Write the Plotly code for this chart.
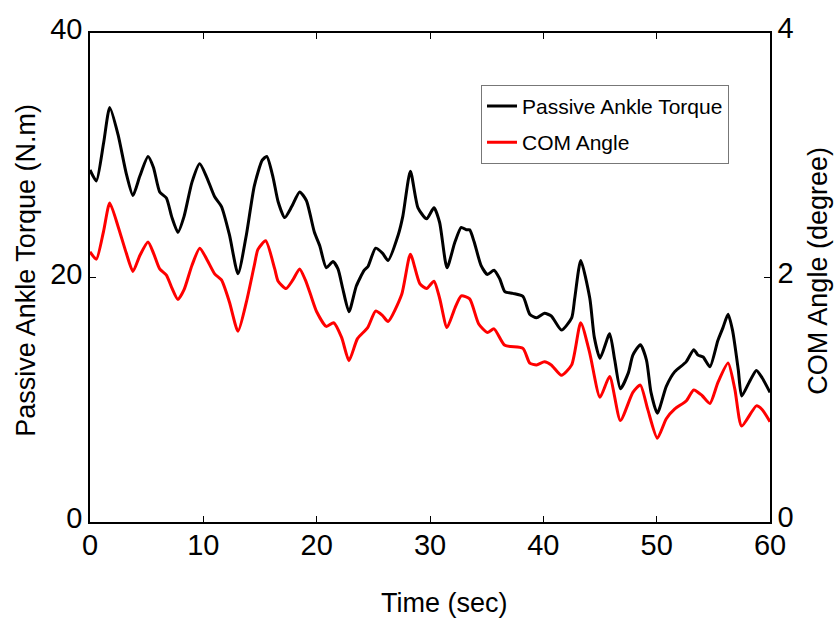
import plotly.graph_objects as go

# Passive ankle torque (N.m) vs time (sec)
torque_t = [0.0, 0.56, 1.2, 1.74, 2.47, 3.2, 3.79, 4.4, 5.12, 5.6, 6.15, 6.74, 7.2, 7.76, 8.3, 9.0,
            9.68, 10.3, 11.0, 11.6, 12.3, 13.06, 13.8, 14.5, 15.2, 15.6, 16.15, 16.6, 17.18, 17.8,
            18.5, 19.09, 19.8, 20.27, 20.85, 21.44, 21.88, 22.3, 22.85, 23.5, 24.2, 24.53, 25.2,
            25.8, 26.3, 27.2, 27.6, 28.27, 28.94, 29.7, 30.35, 30.85, 31.5, 32.2, 32.76, 33.2,
            33.5, 33.9, 34.5, 35.06, 35.65, 36.15, 36.6, 37.3, 38.2, 38.8, 39.4, 40.1, 40.7, 41.6,
            42.5, 42.77, 43.3, 44.1, 44.5, 45.0, 45.85, 46.3, 46.8, 47.5, 47.9, 48.56, 49.1, 49.5,
            50.06, 50.85, 51.6, 52.6, 53.27, 53.65, 54.1, 54.7, 55.4, 55.85, 56.3, 56.7, 57.2,
            57.5, 58.2, 58.8, 59.3, 60.0]
torque_v = [28.8, 27.9, 31.0, 33.9, 31.7, 28.5, 26.7, 28.3, 29.9, 29.0, 27.0, 26.5, 25.0, 23.7, 25.0, 27.8,
            29.3, 28.2, 26.6, 25.8, 23.5, 20.3, 23.5, 27.5, 29.6, 29.9, 28.2, 26.2, 24.9, 25.8,
            27.0, 26.3, 23.7, 22.6, 20.8, 21.3, 20.7, 19.1, 17.2, 19.3, 20.6, 20.9, 22.4,
            22.0, 21.4, 23.5, 25.0, 28.7, 25.7, 24.8, 25.7, 24.5, 20.8, 22.9, 24.1, 23.9,
            23.9, 22.9, 21.0, 20.25, 20.6, 19.9, 18.85, 18.7, 18.45, 17.0, 16.7, 17.07, 16.85, 15.7,
            16.7, 18.3, 21.4, 18.3, 15.1, 13.4, 15.4, 13.25, 10.9, 12.2, 13.65, 14.5, 13.25, 10.6,
            8.9, 11.1, 12.3, 13.1, 14.1, 13.65, 13.5, 12.7, 14.85, 15.9, 17.0, 15.65, 12.45,
            10.3, 11.5, 12.4, 11.8, 10.6]

# COM angle (degree) vs time (sec)
com_t = [0.0, 0.56, 1.2, 1.74, 2.47, 3.2, 3.79, 4.4, 5.12, 5.6, 6.15, 6.74, 7.2, 7.76, 8.3, 9.0,
         9.68, 10.3, 11.0, 11.6, 12.3, 13.06, 13.8, 14.5, 14.82, 15.5, 16.3, 16.6, 17.3, 17.9,
         18.5, 19.0, 19.5, 20.0, 20.85, 21.5, 22.2, 22.85, 23.6, 24.5, 25.2, 25.8, 26.3, 27.5,
         28.27, 29.1, 29.7, 30.35, 30.85, 31.5, 32.2, 32.76, 33.5, 34.3, 35.06, 35.65, 36.6,
         38.2, 38.8, 39.4, 40.1, 40.7, 41.6, 42.5, 43.3, 44.1, 45.0, 45.85, 46.8, 47.9, 48.56,
         49.2, 50.06, 50.85, 51.6, 52.6, 53.27, 54.0, 54.7, 55.4, 56.3, 56.9, 57.5, 58.8, 59.3,
         60.0]
com_v = [2.21, 2.15, 2.38, 2.61, 2.42, 2.2, 2.05, 2.18, 2.29, 2.2, 2.07, 2.02, 1.92, 1.82, 1.9, 2.1,
         2.24, 2.15, 2.03, 1.98, 1.8, 1.56, 1.8, 2.1, 2.23, 2.30, 2.07, 1.97, 1.91, 1.98,
         2.07, 1.98, 1.85, 1.72, 1.60, 1.63, 1.51, 1.32, 1.50, 1.59, 1.725, 1.69, 1.64, 1.86,
         2.19, 1.95, 1.91, 1.97, 1.83, 1.59, 1.75, 1.85, 1.825, 1.62, 1.55, 1.58, 1.445,
         1.42, 1.30, 1.285, 1.31, 1.285, 1.20, 1.285, 1.63, 1.38, 1.02, 1.19, 0.83, 1.06, 1.12,
         0.925, 0.685, 0.845, 0.925, 0.99, 1.08, 1.035, 0.97, 1.14, 1.30, 1.085, 0.785, 0.95, 0.92,
         0.82]

x_ticks = [0, 10, 20, 30, 40, 50, 60]
y1_ticks = [0, 20, 40]
y2_ticks = [0, 2, 4]

FONT = "Liberation Sans, Arial, Helvetica, sans-serif"

fig = go.Figure()
fig.add_trace(go.Scatter(x=torque_t, y=torque_v, mode="lines", name="Passive Ankle Torque",
                         line=dict(color="#000000", width=3, shape="spline", smoothing=0.6),
                         legendgroup="a"))
fig.add_trace(go.Scatter(x=com_t, y=com_v, mode="lines", name="COM Angle", yaxis="y2",
                         line=dict(color="#ff0000", width=3, shape="spline", smoothing=0.6),
                         legendgroup="b"))

axis_common = dict(showgrid=False, zeroline=False, showline=True, linecolor="black", linewidth=1.5,
                   ticks="inside", ticklen=6, tickcolor="black", tickwidth=1,
                   tickfont=dict(family=FONT, size=29, color="black"))

fig.update_layout(
    width=834, height=623,
    margin=dict(l=90, r=64, t=22, b=101),
    paper_bgcolor="white", plot_bgcolor="white",
    font=dict(family=FONT, color="black"),
    xaxis=dict(range=[0, 60], tickvals=x_ticks, mirror="ticks", ticklabelstandoff=-4, **axis_common),
    yaxis=dict(range=[0, 40], tickvals=y1_ticks, ticklabelshift=-4, **axis_common),
    yaxis2=dict(range=[0, 4], tickvals=y2_ticks, overlaying="y", side="right",
                ticklabelshift=-5, **axis_common),
    showlegend=True,
    legend=dict(x=0.575, y=0.894, xanchor="left", yanchor="top",
                bordercolor="#777777", borderwidth=1, bgcolor="white",
                font=dict(family=FONT, size=21, color="black"),
                traceorder="grouped", tracegroupgap=6),
    annotations=[
        dict(text="Time (sec)", x=0.522, y=-0.166, xref="paper", yref="paper",
             showarrow=False, font=dict(size=27, family=FONT), xanchor="center", yanchor="middle"),
        dict(text="Passive Ankle Torque (N.m)", x=-0.094, y=0.514, xref="paper", yref="paper",
             showarrow=False, textangle=-90, font=dict(size=27, family=FONT),
             xanchor="center", yanchor="middle"),
        dict(text="COM Angle (degree)", x=1.0706, y=0.514, xref="paper", yref="paper",
             showarrow=False, textangle=-90, font=dict(size=27, family=FONT),
             xanchor="center", yanchor="middle"),
    ],
)

fig.write_html("out.html")
